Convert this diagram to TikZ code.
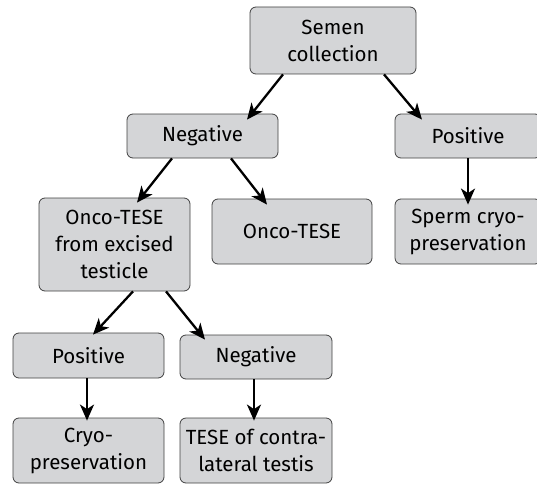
\documentclass[tikz,border=0pt]{standalone}
\usepackage{fontspec}
\setmainfont{Fira Sans}
\usetikzlibrary{arrows.meta}

\definecolor{boxgray}{HTML}{D4D5D7}

\begin{document}
\begin{tikzpicture}[x=1pt,y=-1pt,
  box/.style={draw=black!75,line width=0.8pt,fill=boxgray,rounded corners=6pt,
    align=center,inner sep=0pt,font=\fontsize{20.5}{27}\selectfont},
  arr/.style={line width=2.3pt,-{Stealth[length=16pt,width=14pt,inset=4.5pt]}}]
 \useasboundingbox (0,0) rectangle (537,484);
 \node[box,minimum width=166pt,minimum height=67pt] (sem) at (333,40.5) {Semen\\collection};
 \node[box,minimum width=151pt,minimum height=44pt] (neg) at (202.5,136) {Negative};
 \node[box,minimum width=146pt,minimum height=44pt] (pos) at (468,136) {Positive};
 \node[box,minimum width=151pt,minimum height=93pt] (exc) at (114.5,244.5) {Onco-TESE\\from excised\\testicle};
 \node[box,minimum width=160pt,minimum height=65pt] (onco) at (292,231.5) {Onco-TESE};
 \node[box,minimum width=146pt,minimum height=65pt] (sperm) at (468,231.5) {Sperm cryo-\\preservation};
 \node[box,minimum width=151pt,minimum height=45pt] (pos2) at (88.5,355.5) {Positive};
 \node[box,minimum width=152pt,minimum height=44pt] (neg2) at (256,357) {Negative};
 \node[box,minimum width=151pt,minimum height=65pt] (cryo) at (88.5,450.5) {Cryo-\\preservation};
 \node[box,minimum width=152pt,minimum height=65pt] (tese) at (256,450.5) {TESE of contra-\\lateral testis};
 \draw[arr] ([xshift=-50pt]sem.south) -- ([xshift=44.5pt,yshift=-6pt]neg.north);
 \draw[arr] ([xshift=51pt]sem.south) -- ([xshift=-46pt,yshift=-6pt]pos.north);
 \draw[arr] ([xshift=-30.5pt]neg.south) -- ([xshift=22.5pt,yshift=-5pt]exc.north);
 \draw[arr] ([xshift=28.5pt]neg.south) -- ([xshift=-25pt,yshift=-6pt]onco.north);
 \draw[arr] (pos.south) -- ([yshift=-6pt]sperm.north);
 \draw[arr] ([xshift=18.5pt]exc.south) -- ([xshift=4.5pt,yshift=-2pt]pos2.north);
 \draw[arr] ([xshift=51.5pt]exc.south) -- ([xshift=-51pt,yshift=-5pt]neg2.north);
 \draw[arr] ([xshift=-1.5pt]pos2.south) -- ([xshift=-1.5pt,yshift=-3pt]cryo.north);
 \draw[arr] ([xshift=-2pt]neg2.south) -- ([xshift=-2pt,yshift=-3pt]tese.north);
\end{tikzpicture}
\end{document}
